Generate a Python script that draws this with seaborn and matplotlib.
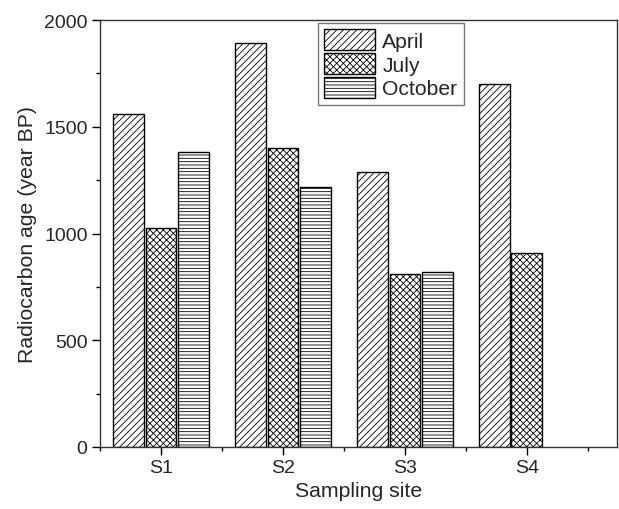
import matplotlib
matplotlib.use("Agg")
import matplotlib.pyplot as plt
import seaborn as sns
import pandas as pd
import numpy as np
from matplotlib.ticker import MultipleLocator, FixedLocator

sites = ["S1", "S2", "S3", "S4"]
months = ["April", "July", "October"]
april = [1560, 1890, 1290, 1700]
july = [1025, 1400, 810, 910]
october = [1380, 1220, 820, np.nan]
hatches = ["/////", "xxxxx", "-----"]

sns.set_theme(style="ticks")
plt.rcParams["font.family"] = ["Liberation Sans", "DejaVu Sans"]
plt.rcParams["hatch.linewidth"] = 0.6
plt.rcParams["hatch.color"] = "#333333"

df = pd.DataFrame({
    "site": sites * 3,
    "month": [m for m in months for _ in sites],
    "age": april + july + october,
})

fig = plt.figure(figsize=(6.19, 5.10), dpi=100)
ax = fig.add_axes([100/619, 1-448/510, 517/619, 427/510])

sns.barplot(data=df, x="site", y="age", hue="month", hue_order=months,
            palette=["white"]*3, edgecolor="black", linewidth=1.0,
            width=0.8, gap=0.06, ax=ax, legend=False)

for cont, h in zip(ax.containers, hatches):
    for p in cont.patches:
        p.set_hatch(h)
        p.set_edgecolor("black")

ax.set_xlim(-0.5, 3.74)
ax.set_ylim(0, 2000)
ax.yaxis.set_major_locator(MultipleLocator(500))
ax.yaxis.set_minor_locator(MultipleLocator(250))
ax.xaxis.set_minor_locator(FixedLocator([-0.5, 0.5, 1.5, 2.5, 3.5]))
ax.tick_params(which="major", length=6, width=1, direction="out", labelsize=14, color="black", pad=3)
ax.tick_params(which="minor", length=3, width=1, direction="out", color="black")
for s in ax.spines.values():
    s.set_color("#333333")
    s.set_linewidth(1)

ax.set_xlabel("Sampling site", fontsize=15.3, labelpad=3)
ax.set_ylabel("Radiocarbon age (year BP)", fontsize=15.3, labelpad=5)

leg = ax.legend(ax.containers, months, loc="upper left",
                bbox_to_anchor=(0.4217, 0.993), fontsize=15.2, frameon=True,
                fancybox=False, edgecolor="#555555", handlelength=2.4,
                handleheight=1.15, labelspacing=0.1, borderpad=0.3,
                handletextpad=0.35, borderaxespad=0)
leg.get_frame().set_linewidth(1)

fig.savefig("out.png", dpi=100)
